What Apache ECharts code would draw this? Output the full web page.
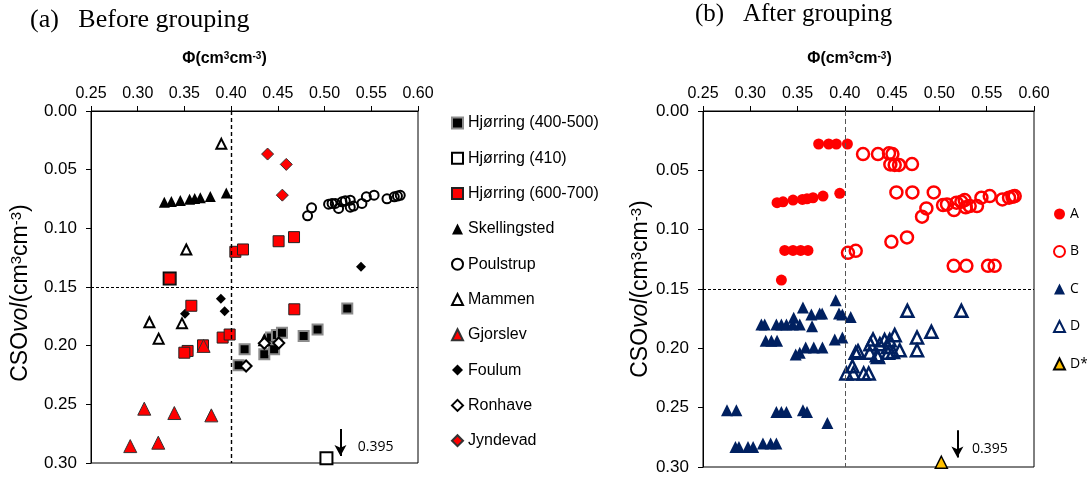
<!DOCTYPE html>
<html>
<head>
<meta charset="utf-8">
<script src="https://cdn.jsdelivr.net/npm/echarts@6/dist/echarts.min.js"></script>
<style>
  html, body { margin: 0; padding: 0; background: #fff; }
  #chart { width: 1087px; height: 479px; }
</style>
</head>
<body>
<div id="chart"></div>
<script>
// ---- Axis ticks ----
const phiTicks = [0.25, 0.30, 0.35, 0.40, 0.45, 0.50, 0.55, 0.60];
const csoTicks = [0.00, 0.05, 0.10, 0.15, 0.20, 0.25, 0.30];
const phiThreshold = 0.40;
const csoThreshold = 0.15;

// ---- (a) Before grouping: [phi, CSOvol] per site ----
const hjorring400_500 = [[0.4144,0.203],[0.408,0.2167],[0.4355,0.2073],[0.446,0.203],[0.4427,0.193],[0.449,0.191],[0.4544,0.189],[0.4776,0.1917],[0.4925,0.1863],[0.5243,0.1684]];
const hjorring410 = [[0.3342,0.1428],[0.502,0.395]];
const hjorring600_700 = [[0.3342,0.1428],[0.4045,0.120],[0.4127,0.118],[0.4508,0.111],[0.4673,0.1075],[0.3574,0.166],[0.3534,0.2045],[0.3499,0.206],[0.3699,0.1997],[0.3909,0.1931],[0.3984,0.1905],[0.4676,0.169]];
const skellingsted = [[0.3285,0.0778],[0.336,0.0772],[0.3456,0.0762],[0.3555,0.0752],[0.361,0.0745],[0.367,0.074],[0.3777,0.0728],[0.3948,0.0698]];
const poulstrup = [[0.4818,0.0893],[0.4861,0.0825],[0.5043,0.0794],[0.508,0.0788],[0.5115,0.0788],[0.515,0.083],[0.5187,0.0774],[0.5222,0.0765],[0.5275,0.076],[0.5275,0.082],[0.531,0.081],[0.540,0.0788],[0.5447,0.0731],[0.553,0.0717],[0.5668,0.0748],[0.5746,0.0731],[0.578,0.0725],[0.581,0.0719]];
const mammen = [[0.3895,0.028],[0.352,0.118],[0.3125,0.180],[0.3224,0.194],[0.3474,0.181],[0.4355,0.1954]];
const gjorslev = [[0.307,0.2537],[0.3392,0.2574],[0.3788,0.2594],[0.292,0.2856],[0.322,0.2827],[0.3705,0.2002]];
const foulum = [[0.539,0.1328],[0.389,0.160],[0.393,0.1706],[0.3506,0.1727]];
const ronhave = [[0.4355,0.198],[0.451,0.1977],[0.416,0.2173]];
const jyndevad = [[0.439,0.0367],[0.459,0.0455],[0.4548,0.0717]];

// ---- (b) After grouping ----
const groupA = [[0.3723,0.0278],[0.3829,0.0278],[0.391,0.0278],[0.4027,0.0278],[0.3283,0.0773],[0.3346,0.0765],[0.3452,0.0751],[0.3551,0.0745],[0.360,0.074],[0.3663,0.0731],[0.3769,0.0717],[0.3946,0.0694],[0.3364,0.1175],[0.3452,0.1175],[0.3533,0.1175],[0.361,0.1175],[0.3329,0.1425]];
const groupB = [[0.4192,0.0363],[0.435,0.0363],[0.4467,0.0357],[0.4503,0.0363],[0.4481,0.045],[0.4527,0.0455],[0.4573,0.0455],[0.471,0.0447],[0.4545,0.0686],[0.4714,0.0686],[0.494,0.0686],[0.4862,0.0821],[0.4816,0.0891],[0.5038,0.0793],[0.508,0.0787],[0.5154,0.0835],[0.518,0.0773],[0.5232,0.0765],[0.5267,0.0751],[0.5278,0.0812],[0.532,0.0801],[0.5397,0.0801],[0.5444,0.0731],[0.5532,0.0717],[0.5666,0.0745],[0.5736,0.0731],[0.5772,0.0723],[0.5796,0.0717],[0.4033,0.1195],[0.4115,0.1178],[0.4492,0.1102],[0.4657,0.1065],[0.5151,0.1305],[0.5285,0.1305],[0.5514,0.1305],[0.5584,0.1305]];
const groupC = [[0.3903,0.1594],[0.3557,0.1656],[0.3646,0.1715],[0.3734,0.1707],[0.376,0.1707],[0.3938,0.1707],[0.3974,0.1715],[0.4062,0.1735],[0.3117,0.180],[0.3152,0.180],[0.3276,0.180],[0.3329,0.180],[0.3382,0.180],[0.3459,0.1743],[0.345,0.180],[0.3523,0.180],[0.3653,0.1813],[0.3163,0.1937],[0.3223,0.1937],[0.3283,0.1937],[0.3893,0.1926],[0.3974,0.1909],[0.348,0.2052],[0.3523,0.2038],[0.3586,0.1993],[0.3671,0.1993],[0.3763,0.1993],[0.2754,0.2522],[0.2853,0.2522],[0.3276,0.2536],[0.3329,0.2536],[0.3382,0.2536],[0.3557,0.2522],[0.360,0.2536],[0.3815,0.2629],[0.2843,0.2831],[0.288,0.2831],[0.2976,0.2831],[0.303,0.2831],[0.3134,0.2803],[0.3215,0.2803],[0.3276,0.2803]];
const groupD = [[0.4661,0.1684],[0.5232,0.1684],[0.4915,0.1861],[0.4763,0.1909],[0.4763,0.2016],[0.4527,0.1889],[0.4474,0.1931],[0.442,0.1931],[0.4298,0.1926],[0.427,0.1965],[0.437,0.1965],[0.4456,0.1988],[0.458,0.2016],[0.4509,0.203],[0.4456,0.2038],[0.434,0.2058],[0.4263,0.2038],[0.4139,0.2024],[0.4115,0.2038],[0.408,0.2151],[0.4016,0.2212],[0.409,0.2212],[0.4199,0.2212],[0.4252,0.2212],[0.435,0.2072]];
const groupDStar = [[0.502,0.395]];

// Points beyond the axis are drawn on its floor and flagged with an arrow + value.
const csoMax = 0.30;
const csoFloor = 0.296;
const clampCso = pts => pts.map(p => [p[0], Math.min(p[1], csoFloor)]);
const offScale = pts => pts.filter(p => p[1] > csoMax);

const RED = '#FF0000', NAVY = '#002060', GOLD = '#FFC000';
const SANS = 'Liberation Sans';

const nameRich = size => ({
  n: { fontFamily: SANS, fontSize: size, color: '#000' },
  i: { fontFamily: SANS, fontSize: size, fontStyle: 'italic', color: '#000' },
  s: { fontFamily: SANS, fontSize: Math.round(size * 0.64), color: '#000', verticalAlign: 'top', lineHeight: Math.round(size * 0.75) }
});
const boldRich = size => {
  const r = nameRich(size);
  Object.keys(r).forEach(k => r[k].fontWeight = 'bold');
  return r;
};

function xAxisFor(g, shift) {
  return {
    gridIndex: g, type: 'value', position: 'top',
    min: phiTicks[0], max: phiTicks[phiTicks.length - 1], interval: 0.05,
    name: '{n|Φ(cm}{s|3}{n|cm}{s|-3}{n|)}',
    nameLocation: 'middle', nameGap: 44,
    nameTextStyle: { rich: boldRich(16), padding: [0, shift, 0, 0] },
    axisLine: { show: true, onZero: false, lineStyle: { color: '#000', width: 1 } },
    axisTick: { show: true, length: 5, lineStyle: { color: '#000' } },
    axisLabel: { fontFamily: SANS, fontSize: 16, color: '#000', margin: 9, formatter: v => v.toFixed(2) },
    splitLine: { show: false }
  };
}
function yAxisFor(g, gap, shift) {
  return {
    gridIndex: g, type: 'value', inverse: true,
    min: csoTicks[0], max: csoTicks[csoTicks.length - 1], interval: 0.05,
    name: '{n|CSO}{i|vol}{n|(cm}{s|3}{n|cm}{s|-3}{n|)}',
    nameLocation: 'middle', nameRotate: 90, nameGap: gap,
    nameTextStyle: { rich: nameRich(23), padding: [0, shift, 0, 0] },
    axisLine: { show: true, onZero: false, lineStyle: { color: '#000', width: 1 } },
    axisTick: { show: true, length: 5, lineStyle: { color: '#000' } },
    axisLabel: { fontFamily: SANS, fontSize: 17, color: '#000', margin: 14, formatter: v => v.toFixed(2) },
    splitLine: { show: false }
  };
}

function sc(g, name, data, symbol, size, style, z) {
  return {
    type: 'scatter', name, xAxisIndex: g, yAxisIndex: g,
    data: clampCso(data), symbol, symbolSize: size,
    itemStyle: Object.assign({ opacity: 1 }, style),
    emphasis: { disabled: true }, z: z || 2, animation: false
  };
}

function thresholds(g, vStyle, hStyle) {
  return {
    silent: true, symbol: 'none', animation: false, label: { show: false },
    data: [
      { yAxis: csoThreshold, lineStyle: hStyle },
      { xAxis: phiThreshold, lineStyle: vStyle }
    ]
  };
}

function offScaleMarks(pts, arrowX, arrowTop, arrowBottom, labelX, labelY) {
  const p = offScale(pts)[0];
  return {
    markLine: {
      silent: true, animation: false, symbol: ['none', 'arrow'], symbolSize: [9, 11],
      label: { show: false },
      lineStyle: { color: '#000', width: 2, type: 'solid' },
      data: [[{ coord: [arrowX, arrowTop] }, { coord: [arrowX, arrowBottom] }]]
    },
    markPoint: {
      silent: true, animation: false, symbol: 'rect', symbolSize: 1,
      itemStyle: { color: 'rgba(0,0,0,0)' },
      label: { show: true, position: 'right', distance: 0, color: '#000', fontFamily: 'Open Sans', fontSize: 14,
               formatter: () => p[1].toFixed(3) },
      data: [{ coord: [labelX, labelY] }]
    }
  };
}

const leftSeries = [
  sc(0, 'Hjørring (400-500)', hjorring400_500, 'rect', 10, { color: '#000', borderColor: '#8c8c8c', borderWidth: 2 }),
  Object.assign(sc(0, 'Hjørring (410)', hjorring410, 'rect', 12, { color: '#fff', borderColor: '#000', borderWidth: 2 }),
    offScaleMarks(hjorring410, 0.517, 0.271, 0.294, 0.535, 0.2867)),
  sc(0, 'Hjørring (600-700)', hjorring600_700, 'rect', 11, { color: RED, borderColor: '#222', borderWidth: 1 }, 3),
  sc(0, 'Skellingsted', skellingsted, 'triangle', 11, { color: '#000' }),
  sc(0, 'Poulstrup', poulstrup, 'circle', 9, { color: 'rgba(0,0,0,0)', borderColor: '#000', borderWidth: 2 }),
  sc(0, 'Mammen', mammen, 'triangle', 10, { color: '#fff', borderColor: '#000', borderWidth: 2 }),
  sc(0, 'Gjorslev', gjorslev, 'triangle', 13, { color: RED, borderColor: '#333', borderWidth: 1 }, 4),
  sc(0, 'Foulum', foulum, 'diamond', 10, { color: '#000' }),
  sc(0, 'Ronhave', ronhave, 'diamond', 11, { color: '#fff', borderColor: '#000', borderWidth: 2 }, 3),
  sc(0, 'Jyndevad', jyndevad, 'diamond', 12, { color: RED, borderColor: '#333', borderWidth: 1 })
];
leftSeries[0].markLine = thresholds(0,
  { color: '#000', width: 1.4, type: [4, 3] },
  { color: '#000', width: 1, type: [3, 2] });

const rightSeries = [
  sc(1, 'A', groupA, 'circle', 11, { color: RED }),
  sc(1, 'B', groupB, 'circle', 12, { color: 'rgba(0,0,0,0)', borderColor: RED, borderWidth: 2.5 }),
  sc(1, 'C', groupC, 'triangle', 12, { color: NAVY }),
  sc(1, 'D', groupD, 'triangle', 12, { color: 'rgba(0,0,0,0)', borderColor: NAVY, borderWidth: 2.5 }),
  Object.assign(sc(1, 'D*', groupDStar, 'triangle', 12, { color: GOLD, borderColor: '#000', borderWidth: 1.5 }),
    offScaleMarks(groupDStar, 0.519, 0.269, 0.292, 0.534, 0.2845))
];
rightSeries[0].markLine = thresholds(1,
  { color: '#555', width: 1, type: [5, 3] },
  { color: '#000', width: 1, type: [3, 2] });

const legendBase = {
  orient: 'vertical', itemWidth: 11, itemHeight: 11, padding: 0, height: 420,
  selectedMode: false
};

const chart = echarts.init(document.getElementById('chart'), null, { renderer: 'canvas' });
chart.setOption({
  backgroundColor: '#fff',
  animation: false,
  title: [
    { text: '(a)   Before grouping', left: 30, top: 7, padding: 0,
      textStyle: { fontFamily: 'Liberation Serif', fontSize: 26, fontWeight: 'normal', color: '#000' } },
    { text: '(b)   After grouping', left: 695, top: 2, padding: 0,
      textStyle: { fontFamily: 'Liberation Serif', fontSize: 25, fontWeight: 'normal', color: '#000' } }
  ],
  grid: [
    { left: 91, top: 111, width: 327, height: 352, show: true, borderColor: '#000', borderWidth: 1, backgroundColor: 'transparent' },
    { left: 703, top: 111, width: 331, height: 356, show: true, borderColor: '#000', borderWidth: 1, backgroundColor: 'transparent' }
  ],
  xAxis: [xAxisFor(0, 60), xAxisFor(1, 38)],
  yAxis: [yAxisFor(0, 59, 12), yAxisFor(1, 43, 0)],
  legend: [
    Object.assign({}, legendBase, {
      left: 451, top: 115, itemGap: 19.3,
      textStyle: { fontFamily: SANS, fontSize: 16, color: '#000' },
      data: leftSeries.map(s => s.name)
    }),
    Object.assign({}, legendBase, {
      left: 1053, top: 207, itemGap: 23.5,
      textStyle: { fontFamily: 'Open Sans', fontSize: 14, color: '#000' },
      data: rightSeries.map(s => s.name)
    })
  ],
  series: leftSeries.concat(rightSeries)
});
</script>
</body>
</html>
